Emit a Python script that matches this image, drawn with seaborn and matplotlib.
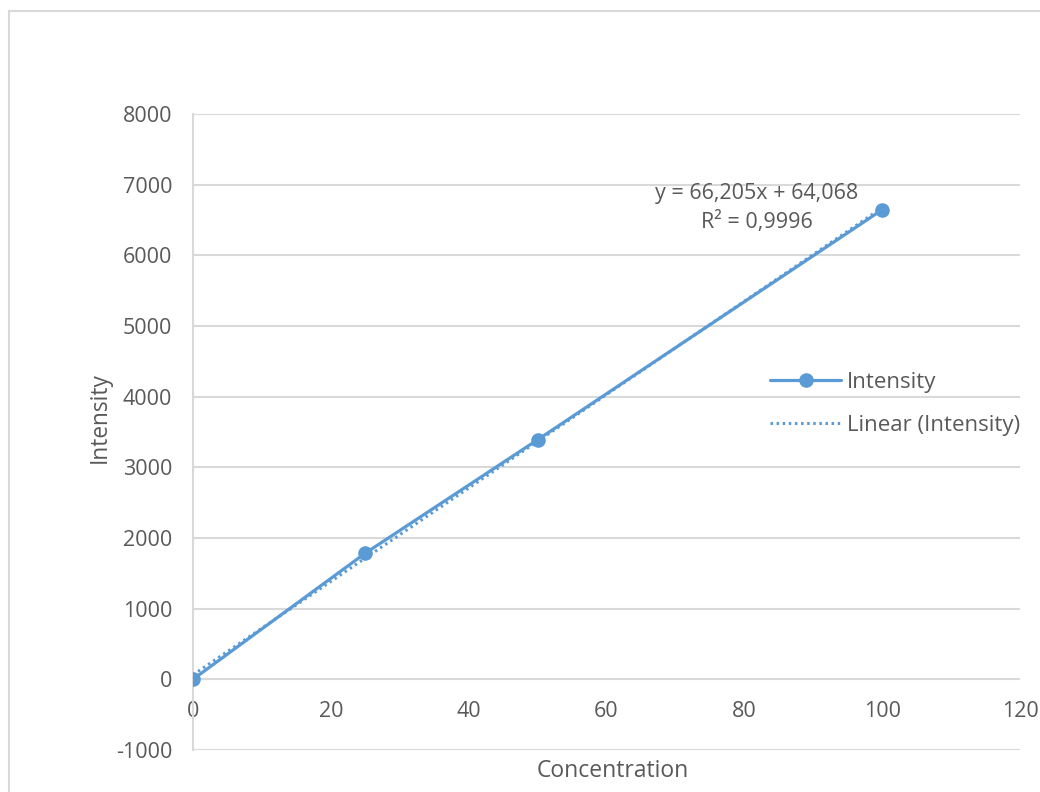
import matplotlib
matplotlib.use("Agg")
import matplotlib.pyplot as plt
import seaborn as sns
import pandas as pd
from matplotlib.patches import Rectangle
from matplotlib.lines import Line2D

concentration = [0, 25, 50, 100]
intensity = [0, 1785, 3390, 6645]
x_ticks = [0, 20, 40, 60, 80, 100, 120]
y_ticks = [-1000, 0, 1000, 2000, 3000, 4000, 5000, 6000, 7000, 8000]
equation_text = "y = 66,205x + 64,068"
r2_text = "R² = 0,9996"

sns.set_theme(style="white")
plt.rcParams['font.family'] = ['Open Sans', 'DejaVu Sans']
plt.rcParams['axes.unicode_minus'] = False

BLUE = "#5B9BD5"
TEXT = "#595959"
GRID = "#D9D9D9"

W, H = 1040, 792
fig = plt.figure(figsize=(W / 100, H / 100), dpi=100)
L, R, T, B = 193, 1020, 114, 750
ax = fig.add_axes([L / W, 1 - B / H, (R - L) / W, (B - T) / H])

df = pd.DataFrame({"Concentration": concentration, "Intensity": intensity})

sns.regplot(data=df, x="Concentration", y="Intensity", ax=ax, scatter=False,
            ci=None, truncate=True,
            line_kws=dict(color=BLUE, lw=2.2, linestyle=(0, (0.8, 1.2)), zorder=3))
sns.lineplot(data=df, x="Concentration", y="Intensity", ax=ax, color=BLUE,
             lw=2.3, marker="o", markersize=10.5, markeredgewidth=0, zorder=4)

ax.set_xlim(0, 120)
ax.set_ylim(-1000, 8000)
ax.set_xticks(x_ticks)
ax.set_yticks(y_ticks)
ax.yaxis.grid(True, color=GRID, lw=1.5)
ax.set_axisbelow(True)
for s in ["top", "right"]:
    ax.spines[s].set_visible(False)
ax.spines["left"].set_color(GRID)
ax.spines["left"].set_linewidth(1.5)
ax.spines["bottom"].set_position(("data", 0))
ax.spines["bottom"].set_visible(False)
ax.tick_params(axis="both", length=0, colors=TEXT, labelsize=15.5)
ax.tick_params(axis="y", pad=15)
ax.tick_params(axis="x", pad=15.5)
ax.set_xlabel("")
ax.set_ylabel("")

fig.text(613 / W, 1 - 771 / H, "Concentration", ha="center", va="center",
         color=TEXT, fontsize=16.5)
fig.text(100 / W, 1 - 418 / H, "Intensity", ha="center", va="center",
         color=TEXT, fontsize=16.3, rotation=90)

ax.text(757 / W, 1 - 193 / H, equation_text, transform=fig.transFigure,
        ha="center", va="center", color=TEXT, fontsize=15.5)
ax.text(757 / W, 1 - 222 / H, r2_text, transform=fig.transFigure,
        ha="center", va="center", color=TEXT, fontsize=15.5)

handles = [Line2D([], [], color=BLUE, lw=2.3, marker="o", markersize=10.5, markeredgewidth=0),
           Line2D([], [], color=BLUE, lw=2.2, linestyle=(0, (0.8, 1.2)))]
fig.legend(handles, ["Intensity", "Linear (Intensity)"], loc="upper left",
           bbox_to_anchor=(770 / W, 1 - 372 / H), frameon=False, fontsize=16,
           labelcolor=TEXT, handlelength=3.2, handletextpad=0.27, labelspacing=1.0,
           borderpad=0, borderaxespad=0)

fig.add_artist(Rectangle((9 / W, -0.1), 1.2, 1 - 11 / H + 0.1, transform=fig.transFigure,
                         fill=False, edgecolor=GRID, lw=1.5))

fig.savefig("out.png", dpi=100, facecolor="white")
